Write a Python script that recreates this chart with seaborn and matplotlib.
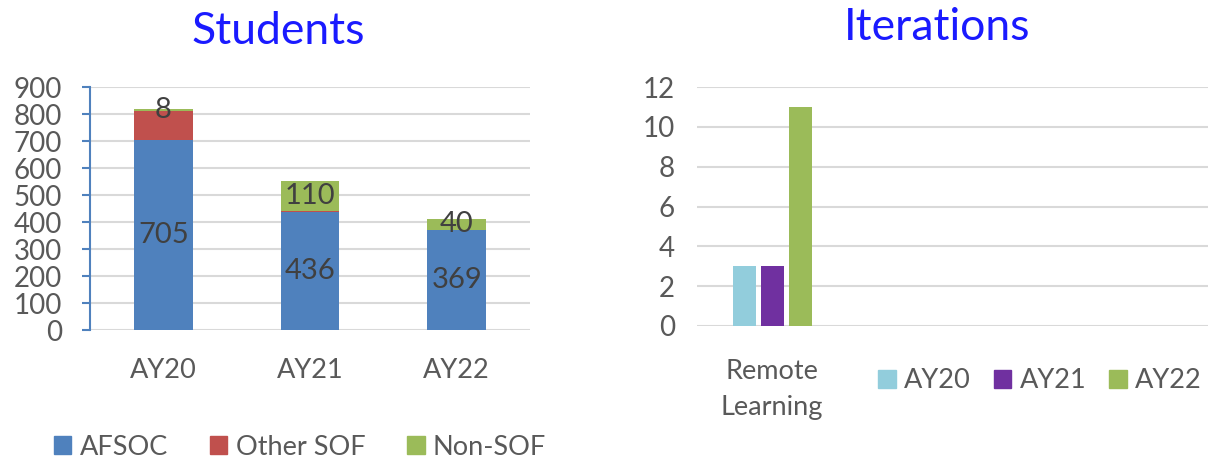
import pandas as pd
import matplotlib
matplotlib.use("Agg")
from matplotlib import pyplot as plt
from matplotlib.patches import Patch
import seaborn as sns

# ---------------- DATA ---------------------------------------
years = ['AY20', 'AY21', 'AY22']
afsoc = [705, 436, 369]
other_sof = [105, 6, 3]
non_sof = [8, 110, 40]

iter_category = ['Remote Learning']
iter_ay20 = [3]
iter_ay21 = [3]
iter_ay22 = [11]

# ---------------- COLORS ---------------------------------------
col_afsoc = '#4F81BD'
col_other = '#C0504D'
col_non = '#9BBB59'
col_ay20 = '#92CDDC'
col_ay21 = '#7030A0'
col_ay22 = '#9BBB59'
txt_gray = '#595959'
grid_gray = '#D9D9D9'

sns.set_style("white")
plt.rcParams['font.family'] = ['Lato', 'DejaVu Sans']

fig = plt.figure(figsize=(12.08, 4.61), dpi=100)
W, H = 1208, 461

def px_axes(x0, x1, y_top, y_bot):
    return fig.add_axes([x0 / W, 1 - y_bot / H, (x1 - x0) / W, (y_bot - y_top) / H])

#--------------------------Students (stacked)--------------------------------------------------
ax1 = px_axes(90, 530, 87, 330)
stud = pd.DataFrame({'Year': years, 'AFSOC': afsoc, 'Other SOF': other_sof, 'Non-SOF': non_sof})
stud['c1'] = stud['AFSOC']
stud['c2'] = stud['c1'] + stud['Other SOF']
stud['c3'] = stud['c2'] + stud['Non-SOF']

for col, color in [('c3', col_non), ('c2', col_other), ('c1', col_afsoc)]:
    sns.barplot(data=stud, x='Year', y=col, color=color, width=0.4, ax=ax1,
                saturation=1, linewidth=0)

for i, row in stud.iterrows():
    ax1.text(i, row['c1'] / 2, str(row['AFSOC']), ha='center', va='center',
             fontsize=21, color='#404040')
    ax1.text(i, (row['c2'] + row['c3']) / 2, str(row['Non-SOF']), ha='center', va='center',
             fontsize=21, color='#404040')

ax1.set_ylim(0, 900)
ax1.set_yticks(range(0, 1000, 100))
ax1.set_xlabel('')
ax1.set_ylabel('')
ax1.yaxis.grid(True, color=grid_gray, linewidth=1.5)
ax1.set_axisbelow(True)
for s in ['top', 'right', 'bottom']:
    ax1.spines[s].set_visible(False)
ax1.spines['left'].set_color(col_afsoc)
ax1.spines['left'].set_linewidth(1.5)
ax1.tick_params(axis='y', direction='out', length=6, width=1.5, color=col_afsoc,
                labelsize=20, labelcolor=txt_gray, pad=14, left=True)
ax1.tick_params(axis='x', length=0, labelsize=19.5, labelcolor=txt_gray, pad=20)
fig.text(278 / W, 1 - 32 / H, 'Students', ha='center', va='center', fontsize=32, color='#1A1AFF')

handles1 = [Patch(color=col_afsoc, label='AFSOC'), Patch(color=col_other, label='Other SOF'),
            Patch(color=col_non, label='Non-SOF')]
fig.legend(handles=handles1, loc='center', bbox_to_anchor=(300 / W, 1 - 447 / H), ncol=3,
           frameon=False, fontsize=19.5, labelcolor=txt_gray, handlelength=0.65, handleheight=0.65,
           handletextpad=0.3, columnspacing=1.55)

#--------------------------Iterations--------------------------------------------------
ax2 = px_axes(697, 1208, 87, 326)
iters = pd.DataFrame({
    'Category': iter_category * 3,
    'Year': ['AY20'] * len(iter_ay20) + ['AY21'] * len(iter_ay21) + ['AY22'] * len(iter_ay22),
    'Value': iter_ay20 + iter_ay21 + iter_ay22,
})
sns.barplot(data=iters, x='Category', y='Value', hue='Year', ax=ax2,
            palette=[col_ay20, col_ay21, col_ay22], width=0.56, gap=0.18,
            saturation=1, linewidth=0, legend=False)
ax2.set_xlim(-0.5, 2.9)
ax2.set_ylim(0, 12)
ax2.set_yticks(range(0, 14, 2))
ax2.set_xticks([0])
ax2.set_xticklabels(['Remote\nLearning'], linespacing=1.55)
ax2.set_xlabel('')
ax2.set_ylabel('')
ax2.yaxis.grid(True, color=grid_gray, linewidth=1.5)
ax2.set_axisbelow(True)
for s in ['top', 'right', 'bottom', 'left']:
    ax2.spines[s].set_visible(False)
ax2.tick_params(axis='y', length=0, labelsize=20, labelcolor=txt_gray, pad=16)
ax2.tick_params(axis='x', length=0, labelsize=19.5, labelcolor=txt_gray, pad=24)
fig.text(937 / W, 1 - 27 / H, 'Iterations', ha='center', va='center', fontsize=32, color='#1A1AFF')

handles2 = [Patch(color=col_ay20, label='AY20'), Patch(color=col_ay21, label='AY21'),
            Patch(color=col_ay22, label='AY22')]
fig.legend(handles=handles2, loc='center', bbox_to_anchor=(1040 / W, 1 - 381 / H), ncol=3,
           frameon=False, fontsize=19.5, labelcolor=txt_gray, handlelength=0.65, handleheight=0.65,
           handletextpad=0.3, columnspacing=0.85)

fig.savefig('out.png', dpi=100)
